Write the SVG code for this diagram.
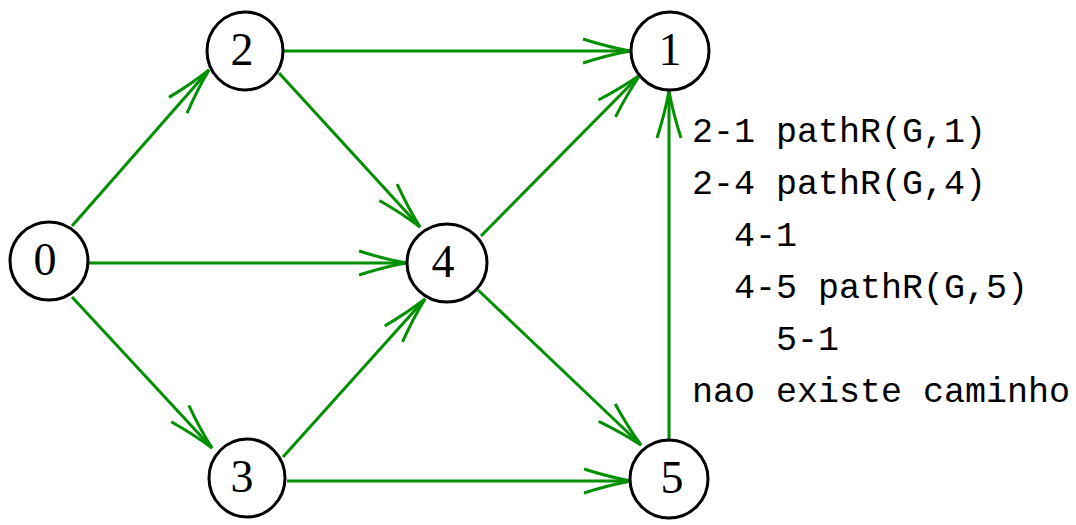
<svg xmlns="http://www.w3.org/2000/svg" width="1076" height="525" viewBox="0 0 1076 525">
<style>
.node ellipse{fill:#fff;stroke:#000;stroke-width:3}
.node text{font-family:"Liberation Serif","DejaVu Serif",serif;font-size:46px;text-anchor:middle;fill:#000}
.edge{stroke:#009000;stroke-width:3;fill:none;marker-end:url(#ah)}
.log{font-family:"Liberation Mono","DejaVu Sans Mono",monospace;font-size:35px;fill:#000;white-space:pre}
</style>
<defs>
<marker id="ah" markerUnits="userSpaceOnUse" viewBox="-55 -20 60 40" markerWidth="60" markerHeight="40" refX="0" refY="0" orient="auto" overflow="visible">
<path d="M-47,-12 Q-22,-4 0,0 Q-22,4 -47,12" fill="none" stroke="#009000" stroke-width="3"/>
</marker>
</defs>
<rect width="1076" height="525" fill="#fff"/>
<g id="connectors">
<path class="edge" d="M72,226 L209,70"/>
<path class="edge" d="M88,263 L406,263"/>
<path class="edge" d="M72,297 L212,448"/>
<path class="edge" d="M284,51 L630,51"/>
<path class="edge" d="M279,73 L420,227"/>
<path class="edge" d="M283,457 L425,299"/>
<path class="edge" d="M287,481 L631,481"/>
<path class="edge" d="M481,236 L640,75"/>
<path class="edge" d="M478,290 L641,445"/>
<path class="edge" d="M669,440 L669,91"/>
</g>
<g id="node0" class="node"><ellipse cx="49" cy="261" rx="39" ry="39"/><text x="45" y="275">0</text></g>
<g id="node2" class="node"><ellipse cx="245" cy="51" rx="38" ry="39"/><text x="242" y="65">2</text></g>
<g id="node1" class="node"><ellipse cx="670" cy="51" rx="39" ry="39"/><text x="670" y="65">1</text></g>
<g id="node4" class="node"><ellipse cx="447" cy="263" rx="40" ry="39"/><text x="443" y="277">4</text></g>
<g id="node3" class="node"><ellipse cx="247" cy="478" rx="38" ry="39"/><text x="242" y="492">3</text></g>
<g id="node5" class="node"><ellipse cx="669" cy="479" rx="39" ry="39"/><text x="672" y="493">5</text></g>
<g id="log">
<text class="log" x="692" y="142">2-1 pathR(G,1)</text>
<text class="log" x="692" y="194">2-4 pathR(G,4)</text>
<text class="log" x="692" y="246">  4-1</text>
<text class="log" x="692" y="298">  4-5 pathR(G,5)</text>
<text class="log" x="692" y="350">    5-1</text>
<text class="log" x="692" y="402">nao existe caminho</text>
</g>
</svg>
